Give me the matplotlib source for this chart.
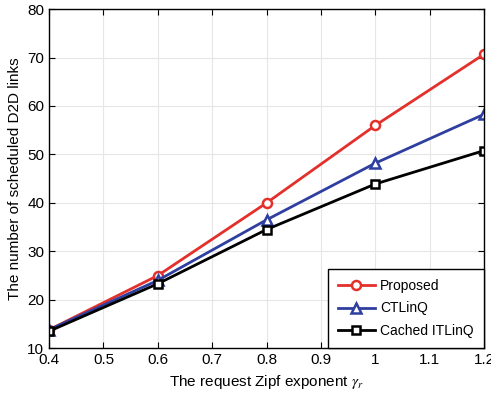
import matplotlib
matplotlib.use("Agg")
import matplotlib.pyplot as plt

gamma = [0.4, 0.6, 0.8, 1.0, 1.2]
proposed = [13.8, 25.0, 40.0, 56.0, 70.7]
ctlinq = [13.8, 24.0, 36.5, 48.2, 58.3]
cached_itlinq = [13.5, 23.3, 34.5, 43.9, 50.8]

plt.rcParams['font.family'] = ['Liberation Sans', 'DejaVu Sans']
plt.rcParams['mathtext.fontset'] = 'stix'

fig = plt.figure(figsize=(4.91, 3.97), dpi=100)
ax = fig.add_axes([0.1, 0.123, 0.886, 0.854])

ax.plot(gamma, proposed, color='#e3302b', lw=2, marker='o', ms=6.5,
        mfc='white', mew=1.8, label='Proposed')
ax.plot(gamma, ctlinq, color='#2f3fa0', lw=2, marker='^', ms=7.5,
        mfc='white', mew=1.8, label='CTLinQ')
ax.plot(gamma, cached_itlinq, color='black', lw=2, marker='s', ms=5.5,
        mfc='white', mew=1.8, label='Cached ITLinQ')

ax.set_xlim(0.4, 1.2)
ax.set_ylim(10, 80)
ax.set_xticks([0.4, 0.5, 0.6, 0.7, 0.8, 0.9, 1.0, 1.1, 1.2])
ax.set_xticklabels(['0.4', '0.5', '0.6', '0.7', '0.8', '0.9', '1', '1.1', '1.2'])
ax.set_yticks(range(10, 81, 10))
ax.grid(True, color='#e6e6e6', lw=0.8)
ax.set_axisbelow(True)
ax.tick_params(direction='in', top=True, right=True, labelsize=11, length=4)
for s in ax.spines.values():
    s.set_linewidth(1)

ax.set_xlabel(r'The request Zipf exponent $\gamma_r$', fontsize=11)
ax.set_ylabel('The number of scheduled D2D links', fontsize=11)

leg = ax.legend(loc='lower right', fontsize=10, fancybox=False, framealpha=1,
                edgecolor='black', borderpad=0.75, labelspacing=0.6,
                handlelength=2.6, handletextpad=0.4, borderaxespad=0)
leg.get_frame().set_linewidth(1)

fig.savefig('out.png', dpi=100)
